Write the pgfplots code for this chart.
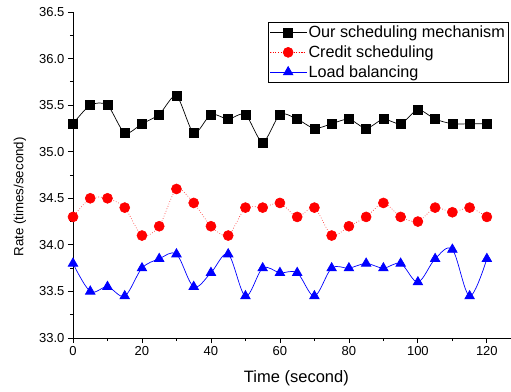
\documentclass[border=0pt]{standalone}
\usepackage{pgfplots}
\pgfplotsset{compat=1.18}
\usepackage{fontspec}
\setmainfont{Liberation Sans}
\begin{document}
\begin{tikzpicture}
\path[use as bounding box] (-73pt,-53pt) rectangle (438pt,338pt);
\begin{axis}[
  at={(0pt,0pt)}, anchor=south west,
  scale only axis, width=438pt, height=326pt,
  xmin=0, xmax=127, ymin=33, ymax=36.5,
  axis x line*=bottom, axis y line*=left,
  axis line style={line width=0.9pt},
  xtick={0,20,...,120}, minor xtick={10,30,...,110},
  ytick={33,33.5,...,36.5}, minor ytick={33.25,33.75,...,36.25},
  tick align=outside, major tick length=5pt, minor tick length=3pt,
  tick style={line width=0.8pt, black},
  /pgf/number format/assume math mode=true,
  yticklabel style={/pgf/number format/.cd, fixed, fixed zerofill, precision=1},
  ticklabel style={font=\fontsize{13}{15}\selectfont},
  xlabel={Time (second)}, ylabel={Rate (times/second)},
  xlabel style={font=\fontsize{16.5}{19}\selectfont, at={(axis description cs:0.51,-0.123)}, anchor=center},
  ylabel style={font=\fontsize{13.3}{16}\selectfont, at={(axis description cs:-0.121,0.433)}, anchor=center, rotate=0},
  legend style={at={(axis description cs:0.445,0.969)}, anchor=north west, draw=black, line width=0.8pt,
    font=\fontsize{16.2}{19}\selectfont, row sep=2.5pt, inner sep=1.5pt, cells={anchor=west}},
  legend image code/.code={\draw[mark repeat=2,mark phase=2] plot coordinates {(0pt,0pt)(18pt,0pt)(36pt,0pt)};},
  clip=false,
]
\addplot[black, line width=0.7pt, smooth, tension=0.45, mark=square*, mark size=4.5pt, mark options={solid, fill=black}]
coordinates {(0,35.3)(5,35.5)(10,35.5)(15,35.2)(20,35.3)(25,35.4)(30,35.6)(35,35.2)(40,35.4)(45,35.35)(50,35.4)(55,35.1)(60,35.4)(65,35.35)(70,35.25)(75,35.3)(80,35.35)(85,35.25)(90,35.35)(95,35.3)(100,35.45)(105,35.35)(110,35.3)(115,35.3)(120,35.3)};
\addlegendentry{Our scheduling mechanism}
\addplot[red, line width=0.6pt, dotted, smooth, tension=0.45, mark=*, mark size=5pt, mark options={solid, fill=red}]
coordinates {(0,34.3)(5,34.5)(10,34.5)(15,34.4)(20,34.1)(25,34.2)(30,34.6)(35,34.45)(40,34.2)(45,34.1)(50,34.4)(55,34.4)(60,34.45)(65,34.3)(70,34.4)(75,34.1)(80,34.2)(85,34.3)(90,34.45)(95,34.3)(100,34.25)(105,34.4)(110,34.35)(115,34.4)(120,34.3)};
\addlegendentry{Credit scheduling}
\addplot[blue, line width=0.7pt, smooth, tension=0.55, mark=triangle*, mark size=5.5pt, mark options={solid, fill=blue}]
coordinates {(0,33.8)(5,33.5)(10,33.55)(15,33.45)(20,33.75)(25,33.85)(30,33.9)(35,33.55)(40,33.7)(45,33.9)(50,33.45)(55,33.75)(60,33.7)(65,33.7)(70,33.45)(75,33.75)(80,33.75)(85,33.8)(90,33.75)(95,33.8)(100,33.6)(105,33.85)(110,33.95)(115,33.45)(120,33.85)};
\addlegendentry{Load balancing}
\end{axis}
\end{tikzpicture}
\end{document}
